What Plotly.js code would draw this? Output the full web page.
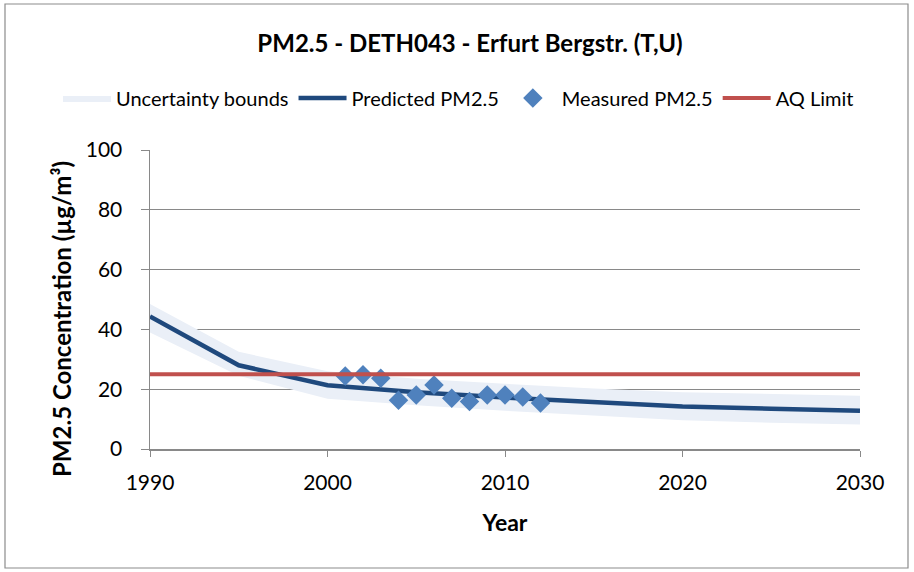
<!DOCTYPE html>
<html>
<head>
<meta charset="utf-8">
<script src="https://cdn.plot.ly/plotly-3.0.1.min.js"></script>
<style>
html,body{margin:0;padding:0;background:#fff;}
#chart{width:914px;height:572px;}
</style>
</head>
<body>
<div id="chart"></div>
<script>
// Predicted series and uncertainty bounds
const predYears = [1990, 1995, 2000, 2005, 2010, 2015, 2020, 2025, 2030];
const predicted = [44.3, 28.0, 21.3, 19.0, 17.2, 15.6, 14.2, 13.5, 12.8];
const upperBound = [48.5, 32.5, 26.0, 23.5, 21.8, 20.2, 19.0, 18.3, 17.8];
const lowerBound = [39.0, 24.5, 16.8, 14.6, 12.8, 11.1, 9.6, 8.8, 8.2];

// Measured values
const measYears = [2001, 2002, 2003, 2004, 2005, 2006, 2007, 2008, 2009, 2010, 2011, 2012];
const measured = [24.4, 24.8, 23.7, 16.3, 18.1, 21.4, 17.0, 15.9, 18.1, 18.1, 17.4, 15.4];

// AQ limit
const limitYears = [1990, 2030];
const limitValues = [25, 25];

const titleText = "PM2.5 - DETH043 - Erfurt Bergstr. (T,U)";
const xTitle = "Year";
const yTitle = "PM2.5 Concentration (µg/m³)";

const FONT = "Lato, 'Open Sans', sans-serif";

const traces = [
  {
    x: predYears, y: lowerBound, type: 'scatter', mode: 'lines',
    line: {width: 0, color: 'rgba(0,0,0,0)'}, showlegend: false, hoverinfo: 'skip'
  },
  {
    x: predYears, y: upperBound, type: 'scatter', mode: 'lines',
    fill: 'tonexty', fillcolor: '#eaeff7',
    line: {width: 0, color: '#eaeff7'}, name: 'Uncertainty bounds'
  },
  {
    x: predYears, y: predicted, type: 'scatter', mode: 'lines',
    line: {color: '#1f497d', width: 4.5}, name: 'Predicted PM2.5'
  },
  {
    x: measYears, y: measured, type: 'scatter', mode: 'markers',
    marker: {symbol: 'diamond', size: 15, color: '#4f81bd'}, name: 'Measured PM2.5'
  },
  {
    x: limitYears, y: limitValues, type: 'scatter', mode: 'lines',
    line: {color: '#c0504d', width: 4}, name: 'AQ Limit'
  }
];

const plotL = 150, plotR = 860, plotT = 150, plotB = 449, W = 914, H = 572;
const pw = plotR - plotL, ph = plotB - plotT;
function px(xp){ return (xp - plotL) / pw; }
function py(yp){ return (plotB - yp) / ph; }

const layout = {
  width: W, height: H,
  margin: {l: plotL, r: W - plotR, t: plotT, b: H - plotB},
  paper_bgcolor: '#fff', plot_bgcolor: '#fff',
  font: {family: FONT, color: '#000', size: 16},
  title: {
    text: '<b>' + titleText + '</b>',
    font: {family: FONT, size: 24, color: '#000'},
    x: 470 / W, xanchor: 'center', y: 1 - 44/H, yanchor: 'middle'
  },
  showlegend: true,
  legend: {
    orientation: 'h', x: px(58), xanchor: 'left', xref: 'paper',
    y: py(98), yanchor: 'middle', yref: 'paper',
    font: {family: FONT, size: 20, color: '#000'},
    traceorder: 'normal', itemwidth: 48, bgcolor: 'rgba(0,0,0,0)'
  },
  xaxis: {
    range: [1990, 2030], dtick: 10, tick0: 1990,
    showgrid: false, zeroline: false,
    showline: true, linecolor: '#898989', linewidth: 1.5,
    ticks: 'outside', ticklen: 6, tickcolor: '#898989',
    ticklabelstandoff: 8,
    tickfont: {family: FONT, size: 21, color: '#000'},
    title: {text: '<b>' + xTitle + '</b>', font: {family: FONT, size: 23, color: '#000'}, standoff: 22}
  },
  yaxis: {
    range: [0, 100], dtick: 20,
    showgrid: true, gridcolor: '#898989', gridwidth: 1.2, zeroline: false,
    showline: true, linecolor: '#898989', linewidth: 1.5,
    ticks: 'outside', ticklen: 8, tickcolor: '#898989',
    ticklabelstandoff: 14,
    tickfont: {family: FONT, size: 21, color: '#000'}
  },
  annotations: [
    {text: '<b>' + yTitle + '</b>', textangle: -90, showarrow: false,
     xref: 'paper', yref: 'paper', x: px(61), y: py(319),
     xanchor: 'center', yanchor: 'middle',
     font: {family: FONT, size: 24, color: '#000'}}
  ],
  shapes: [
    {type: 'rect', xref: 'paper', yref: 'paper',
     x0: px(5), x1: px(908), y0: py(568), y1: py(4),
     line: {color: '#8c8c8c', width: 1.2}, fillcolor: 'rgba(0,0,0,0)', layer: 'below'}
  ]
};

Plotly.newPlot('chart', traces, layout, {displayModeBar: false, staticPlot: true});
</script>
</body>
</html>
